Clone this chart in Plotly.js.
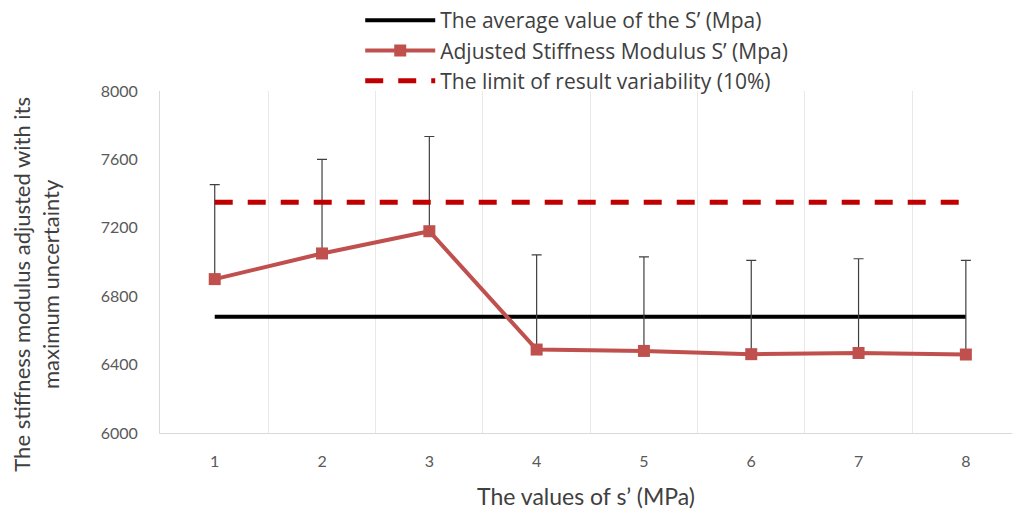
<!DOCTYPE html>
<html>
<head>
<meta charset="utf-8">
<script src="https://cdn.plot.ly/plotly-3.0.1.min.js"></script>
<style>html,body{margin:0;padding:0;background:#fff;}#chart{width:1012px;height:510px;}</style>
</head>
<body>
<div id="chart"></div>
<script>
// Data
const samples = [1, 2, 3, 4, 5, 6, 7, 8];
const adjustedStiffness = [6900, 7050, 7180, 6488, 6480, 6461, 6468, 6459];
const uncertaintyPlus = [552, 550, 554, 554, 550, 548, 551, 550];
const averageX = [1, 8];
const averageValue = [6680, 6680];
const limitX = [1, 8.05];
const limitValue = [7350, 7350];
const yTicks = [6000, 6400, 6800, 7200, 7600, 8000];
const boundaries = [1.5, 2.5, 3.5, 4.5, 5.5, 6.5, 7.5];

const zeros = adjustedStiffness.map(() => 0);
const font = 'Lato, "Open Sans", sans-serif';

const traces = [
  {
    x: averageX, y: averageValue, type: 'scatter', mode: 'lines',
    name: 'The average value of the S’ (Mpa)',
    line: {color: '#000000', width: 4}
  },
  {
    x: samples, y: adjustedStiffness, type: 'scatter', mode: 'lines+markers',
    name: 'Adjusted Stiffness Modulus S’ (Mpa)',
    line: {color: '#C0504D', width: 4},
    marker: {symbol: 'square', size: 12, color: '#C0504D'},
    error_y: {type: 'data', symmetric: false, array: uncertaintyPlus, arrayminus: zeros,
              color: '#404040', thickness: 1.2, width: 5}
  },
  {
    x: limitX, y: limitValue, type: 'scatter', mode: 'lines',
    name: 'The limit of result variability (10%)',
    line: {color: '#C00000', width: 5, dash: '18px,15px'}
  }
];

const layout = {
  width: 1012, height: 510,
  margin: {l: 160, r: 0, t: 90, b: 77},
  paper_bgcolor: '#ffffff', plot_bgcolor: '#ffffff',
  font: {family: font, color: '#595959', size: 16},
  showlegend: true,
  legend: {
    x: 0.235, y: 1.265, xanchor: 'left', yanchor: 'top',
    orientation: 'v', itemwidth: 70,
    font: {family: '"Open Sans", Lato, sans-serif', size: 21, color: '#404040'},
    bgcolor: 'rgba(0,0,0,0)', tracegroupgap: 0
  },
  xaxis: {
    range: [0.49, 8.43],
    tickvals: samples, ticktext: samples.map(String),
    showgrid: false, zeroline: false,
    showline: true, linecolor: '#d9d9d9', linewidth: 1,
    ticks: '', ticklabelstandoff: 14,
    tickfont: {size: 16, color: '#595959'},
    minor: {tickvals: boundaries, showgrid: true, gridcolor: '#e8e8e8', gridwidth: 1, ticks: ''},
    title: {text: 'The values of s’ (MPa)', font: {size: 23, color: '#404040'}, standoff: 19}
  },
  yaxis: {
    range: [6000, 8000],
    tickvals: yTicks,
    showgrid: false, zeroline: false,
    showline: true, linecolor: '#d9d9d9', linewidth: 1,
    ticks: '', ticklabelstandoff: 18,
    tickfont: {size: 16, color: '#595959'}
  },
  annotations: [{
    text: 'The stiffness modulus adjusted with its<br>maximum uncertainty',
    xref: 'paper', yref: 'paper', x: -0.145, y: 0.435,
    xanchor: 'center', yanchor: 'middle',
    textangle: -90, showarrow: false,
    font: {family: font, size: 22, color: '#404040'}
  }]
};

Plotly.newPlot('chart', traces, layout, {displayModeBar: false, staticPlot: true});
</script>
</body>
</html>
